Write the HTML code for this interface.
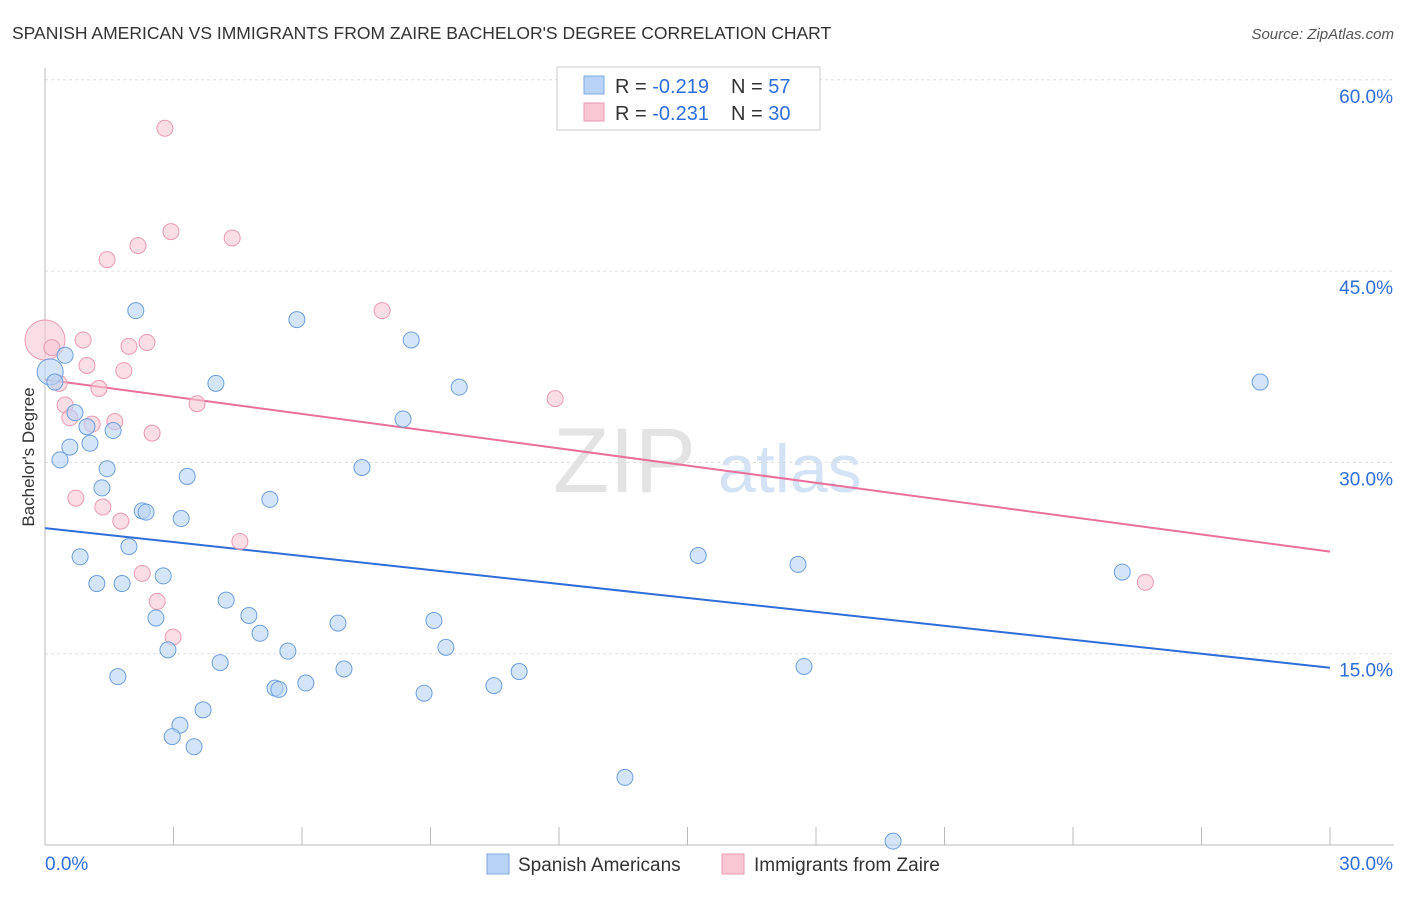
<!DOCTYPE html>
<html><head><meta charset="utf-8"><style>
body{margin:0;background:#fff;font-family:"Liberation Sans",sans-serif;}
svg text{font-family:"Liberation Sans",sans-serif;}
</style></head><body>
<svg id="chart" width="1406" height="892" xmlns="http://www.w3.org/2000/svg">
<text x="12" y="39" font-size="17.5" fill="#333">SPANISH AMERICAN VS IMMIGRANTS FROM ZAIRE BACHELOR'S DEGREE CORRELATION CHART</text>
<text x="1394" y="39" font-size="15" fill="#555" font-style="italic" text-anchor="end">Source: ZipAtlas.com</text>
<g><text x="553" y="492" font-size="92" fill="#ddd" font-family="Liberation Serif" opacity="0.8">ZIP</text><text x="718" y="492" font-size="68" fill="#c9dcf2" opacity="0.8">atlas</text></g>
<g id="grid"></g><g id="axes"></g><g id="lines"></g><g id="points"></g>
<text transform="translate(34,457) rotate(-90)" font-size="17" fill="#333" text-anchor="middle">Bachelor's Degree</text>
<g>
<rect x="557" y="67" width="263" height="63" fill="#fff" stroke="#ccc"/>
<rect x="584" y="76" width="20" height="18" fill="#b8d3f5" stroke="#7fa8dd"/>
<rect x="584" y="103" width="20" height="18" fill="#f9c6d4" stroke="#e99bb2"/>
<text x="615" y="93" font-size="20" fill="#333">R = <tspan fill="#2f6ed8">-0.219</tspan></text>
<text x="731" y="93" font-size="20" fill="#333">N = <tspan fill="#2f6ed8">57</tspan></text>
<text x="615" y="120" font-size="20" fill="#333">R = <tspan fill="#2f6ed8">-0.231</tspan></text>
<text x="731" y="120" font-size="20" fill="#333">N = <tspan fill="#2f6ed8">30</tspan></text>
</g>
<g>
<rect x="487" y="854" width="22" height="20" fill="#b8d3f5" stroke="#7fa8dd"/>
<text x="518" y="871" font-size="19" fill="#333">Spanish Americans</text>
<rect x="722" y="854" width="22" height="20" fill="#f9c6d4" stroke="#e99bb2"/>
<text x="754" y="871" font-size="19" fill="#333">Immigrants from Zaire</text>
</g>
</svg>
<script>
const xTicks=[0,5,10,15,20,25,30];
const yTicks=[15,30,45,60];
const blueX=[0.12,0.23,0.47,0.7,0.35,0.58,0.98,1.05,1.59,1.45,1.33,2.12,2.27,2.36,0.82,1.21,1.8,1.96,2.76,2.59,2.87,1.7,3.18,3.32,3.99,4.23,4.76,5.02,4.09,3.69,3.15,2.97,3.48,5.25,5.88,5.67,5.37,5.46,6.09,6.84,6.98,7.4,8.55,8.36,9.67,9.08,9.36,8.85,10.48,11.07,13.54,15.25,17.58,17.72,19.8,25.15,28.37];
const blueY=[37.1,36.3,38.4,33.9,30.2,31.2,32.8,31.5,32.5,29.5,28.0,41.9,26.2,26.1,22.6,20.5,20.5,23.4,21.1,17.8,15.3,13.2,25.6,28.9,36.2,19.2,18.0,16.6,14.3,10.6,9.4,8.5,7.7,27.1,41.2,15.2,12.3,12.2,12.7,17.4,13.8,29.6,39.6,33.4,35.9,17.6,15.5,11.9,12.5,13.6,5.3,22.7,22.0,14.0,0.3,21.4,36.3];
const pinkX=[0,0.16,0.33,0.47,0.58,0.89,0.98,1.1,1.26,0.72,1.35,1.45,1.63,1.84,1.77,1.96,2.17,2.38,2.5,2.27,2.62,2.8,2.94,2.99,3.55,4.37,4.55,7.87,11.91,25.69];
const pinkY=[39.6,39.0,36.2,34.5,33.5,39.6,37.6,33.0,35.8,27.2,26.5,45.9,33.2,37.2,25.4,39.1,47.0,39.4,32.3,21.3,19.1,56.2,48.1,16.3,34.6,47.6,23.8,41.9,35.0,20.6];
const blueTrend=[24.85,13.9];
const pinkTrend=[36.5,23.0];
const NS="http://www.w3.org/2000/svg";
const X=v=>45+v/30*1285, Y=v=>845-v/15*191.3;
function mk(t,a,p){const e=document.createElementNS(NS,t);for(const k in a)e.setAttribute(k,a[k]);document.getElementById(p).appendChild(e);return e;}
yTicks.forEach(t=>{const g=mk('line',{x1:45,x2:1394,y1:Y(t),y2:Y(t),stroke:'#ddd','stroke-dasharray':'3,3'},'grid');

const l=mk('text',{x:1393,y:Y(t)+23,'font-size':19,fill:'#2f6ed8','text-anchor':'end'},'axes');l.textContent=t.toFixed(1)+'%';
});
const ax=mk('line',{x1:45,x2:45,y1:68,y2:845,stroke:'#bbb'},'axes');
const bx=mk('line',{x1:45,x2:1394,y1:845,y2:845,stroke:'#bbb'},'axes');
for(let i=0;i<=10;i++){const t=mk('line',{x1:45+i*128.5,x2:45+i*128.5,y1:827,y2:845,stroke:'#bbb'},'axes');}
[[0,'start'],[30,'end']].forEach(([v,a])=>{const l=mk('text',{x:v==0?45:1393,y:870,'font-size':19,fill:'#2f6ed8','text-anchor':a},'axes');l.textContent=v.toFixed(1)+'%';});
function pts(xs,ys,f,s,n){xs.forEach((x,i)=>{const c=mk('circle',{cx:X(x),cy:Y(ys[i]),r:(i==0&&n=='pink-point')?20:(i==0?13:8),fill:f,'fill-opacity':0.6,stroke:s,'stroke-width':1},'points');});}
pts(pinkX,pinkY,'#f9c6d4','#e99bb2','pink-point');
pts(blueX,blueY,'#b8d3f5','#6f9fdc','blue-point');
const bl=mk('line',{x1:X(0),x2:X(30),y1:Y(blueTrend[0]),y2:Y(blueTrend[1]),stroke:'#2f6ed8','stroke-width':2},'lines');
const pl=mk('line',{x1:X(0),x2:X(30),y1:Y(pinkTrend[0]),y2:Y(pinkTrend[1]),stroke:'#e8709a','stroke-width':2},'lines');
</script>
</body></html>
